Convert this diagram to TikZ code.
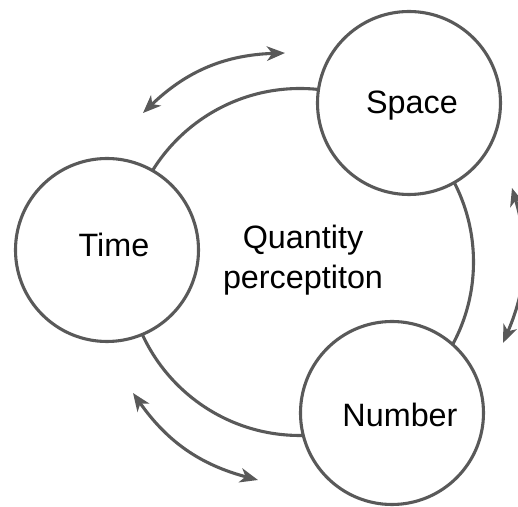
\documentclass[tikz,border=0pt]{standalone}
\usepackage{fontspec}
\setmainfont{Liberation Sans}
\usepackage{xcolor}
\usepackage{tikz}
\usetikzlibrary{arrows.meta,positioning,calc}
\definecolor{lngray}{HTML}{595959}
\begin{document}
\begin{tikzpicture}[font=\fontsize{23}{28.5}\selectfont,
  ring/.style={draw=lngray,line width=2.2pt,circle,fill=white,minimum size=4.575cm,inner sep=0pt},
  bigring/.style={draw=lngray,line width=2.2pt,circle,minimum size=8.675cm,inner sep=0pt},
  lbl/.style={inner sep=0pt,align=center},
  arr/.style={{Stealth[length=4.5mm,width=3.6mm,inset=1.3mm]}-{Stealth[length=4.5mm,width=3.6mm,inset=1.3mm]},line width=2.2pt,draw=lngray},
  >=Stealth]
\useasboundingbox (-7.5,-6.125) rectangle (5.45,6.55);
\node[bigring] (cQ) at (0,0) {};
\node[ring] (cTime) at (-4.825,0.3) {};
\node[ring] (cSpace) at (2.725,3.975) {};
\node[ring] (cNum) at (2.3,-3.775) {};
\node[lbl] (tQ) at (0.075,0.05) {Quantity\\perceptiton};
\node[lbl] (tTime) at (-4.65,0.425) {Time};
\node[lbl] (tSpace) at (2.8,3.9) {Space};
\node[lbl] (tNum) at (2.5,-3.825) {Number};
% arrow ends
\coordinate (pA1) at (-3.925,3.725);
\coordinate (pA2) at (-0.375,5.225);
\coordinate (pB1) at (5.3,1.85);
\coordinate (pB2) at (5.075,-2.025);
\coordinate (pC1) at (-4.175,-3.275);
\coordinate (pC2) at (-1.05,-5.45);
\draw[arr] (pA1) to[bend left=21] (pA2);
\draw[arr] (pB1) to[bend left=20] (pB2);
\draw[arr] (pC1) to[bend right=20] (pC2);
\end{tikzpicture}
\end{document}
